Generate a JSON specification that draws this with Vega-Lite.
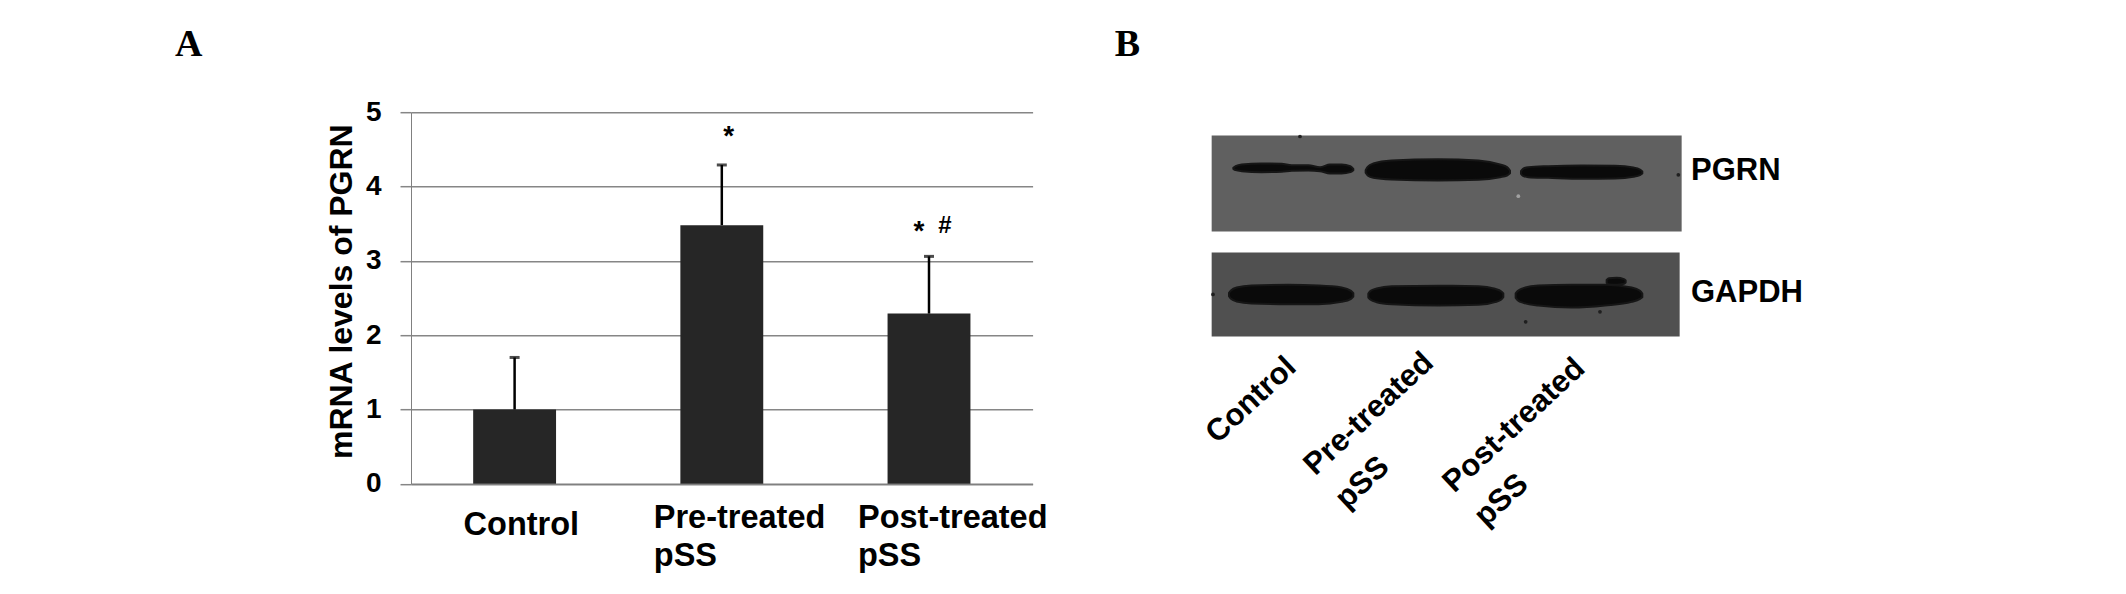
{"$schema":"https://vega.github.io/schema/vega-lite/v6.json","background":"white","padding":{"left":175,"top":26.2,"right":0,"bottom":0},"bounds":"flush","spacing":67,"config":{"view":{"stroke":null},"font":"Liberation Sans"},"datasets":{"bars":[{"group":"Control","mean":1.0,"upper":1.7},{"group":"Pre-treated pSS","mean":3.48,"upper":4.29},{"group":"Post-treated pSS","mean":2.29,"upper":3.06}],"blots":[{"blot":"PGRN","x0":20,"x1":1430,"y0":18,"y1":306},{"blot":"GAPDH","x0":20,"x1":1424,"y0":369,"y1":621}],"bands":[{"band":"p1","gx":85,"top":115,"bottom":118},{"band":"p1","gx":92,"top":110,"bottom":122},{"band":"p1","gx":110,"top":105,"bottom":125},{"band":"p1","gx":170,"top":102,"bottom":128},{"band":"p1","gx":230,"top":103,"bottom":127},{"band":"p1","gx":260,"top":107,"bottom":124},{"band":"p1","gx":310,"top":107,"bottom":123},{"band":"p1","gx":345,"top":113,"bottom":125},{"band":"p1","gx":375,"top":105,"bottom":132},{"band":"p1","gx":410,"top":105,"bottom":132},{"band":"p1","gx":436,"top":110,"bottom":128},{"band":"p1","gx":445,"top":118,"bottom":122},{"band":"p2","gx":482,"top":122,"bottom":130},{"band":"p2","gx":488,"top":112,"bottom":138},{"band":"p2","gx":505,"top":102,"bottom":145},{"band":"p2","gx":560,"top":93,"bottom":150},{"band":"p2","gx":700,"top":89,"bottom":153},{"band":"p2","gx":820,"top":93,"bottom":151},{"band":"p2","gx":885,"top":105,"bottom":143},{"band":"p2","gx":906,"top":113,"bottom":138},{"band":"p2","gx":915,"top":123,"bottom":131},{"band":"p3","gx":948,"top":125,"bottom":133},{"band":"p3","gx":954,"top":118,"bottom":139},{"band":"p3","gx":970,"top":113,"bottom":143},{"band":"p3","gx":1030,"top":110,"bottom":145},{"band":"p3","gx":1130,"top":108,"bottom":148},{"band":"p3","gx":1230,"top":109,"bottom":147},{"band":"p3","gx":1285,"top":114,"bottom":142},{"band":"p3","gx":1305,"top":120,"bottom":137},{"band":"p3","gx":1312,"top":126,"bottom":132},{"band":"g1","gx":72,"top":490,"bottom":500},{"band":"g1","gx":78,"top":483,"bottom":508},{"band":"g1","gx":95,"top":474,"bottom":516},{"band":"g1","gx":140,"top":468,"bottom":522},{"band":"g1","gx":250,"top":466,"bottom":524},{"band":"g1","gx":340,"top":468,"bottom":524},{"band":"g1","gx":410,"top":474,"bottom":517},{"band":"g1","gx":438,"top":484,"bottom":508},{"band":"g1","gx":445,"top":491,"bottom":501},{"band":"g2","gx":490,"top":492,"bottom":504},{"band":"g2","gx":497,"top":484,"bottom":511},{"band":"g2","gx":515,"top":477,"bottom":518},{"band":"g2","gx":560,"top":470,"bottom":524},{"band":"g2","gx":700,"top":469,"bottom":528},{"band":"g2","gx":820,"top":470,"bottom":526},{"band":"g2","gx":870,"top":478,"bottom":518},{"band":"g2","gx":889,"top":486,"bottom":510},{"band":"g2","gx":895,"top":492,"bottom":503},{"band":"g3","gx":932,"top":492,"bottom":505},{"band":"g3","gx":939,"top":484,"bottom":513},{"band":"g3","gx":955,"top":476,"bottom":520},{"band":"g3","gx":1000,"top":468,"bottom":528},{"band":"g3","gx":1100,"top":466,"bottom":534},{"band":"g3","gx":1200,"top":466,"bottom":528},{"band":"g3","gx":1280,"top":474,"bottom":517},{"band":"g3","gx":1305,"top":484,"bottom":508},{"band":"g3","gx":1312,"top":492,"bottom":503},{"band":"g4","gx":1205,"top":451,"bottom":460},{"band":"g4","gx":1212,"top":446,"bottom":465},{"band":"g4","gx":1235,"top":445,"bottom":466},{"band":"g4","gx":1257,"top":449,"bottom":463},{"band":"g4","gx":1262,"top":453,"bottom":459}],"specks":[{"gx":285,"gy":21,"tone":"dark"},{"gx":1420,"gy":136,"tone":"dark"},{"gx":24,"gy":495,"tone":"dark"},{"gx":962,"gy":577,"tone":"dark"},{"gx":1185,"gy":547,"tone":"dark"},{"gx":940,"gy":200,"tone":"light"}],"rotated":[{"gx":37,"gy":945,"name":"Control"},{"gx":331,"gy":1041,"name":"Pre-treated|pSS"},{"gx":748,"gy":1093,"name":"Post-treated|pSS"}],"proteins":[{"gx":1458,"gy":125,"name":"PGRN"},{"gx":1458,"gy":492,"name":"GAPDH"}]},"hconcat":[{"width":621.6,"height":371.6,"title":{"text":"A","anchor":"start","frame":"group","font":"Liberation Serif","fontWeight":"bold","fontSize":38,"color":"#000000","dx":-236,"offset":4,"baseline":"alphabetic"},"data":{"name":"bars"},"layer":[{"mark":{"type":"bar","fill":"#262626"},"encoding":{"x":{"field":"group","type":"nominal","sort":null,"scale":{"paddingInner":0.6,"paddingOuter":0.3},"axis":{"title":null,"labelAngle":0,"ticks":false,"domainColor":"#808080","domainWidth":1.5,"labelFontSize":32.5,"labelFontWeight":"bold","labelColor":"#000000","labelAlign":"left","labelBaseline":"top","labelLineHeight":38,"labelLimit":400,"labelOverlap":false,"labelBound":false,"labelPadding":{"expr":"datum.value=='Control'?25:18"},"labelOffset":{"expr":"datum.value=='Control'?-51:datum.value=='Pre-treated pSS'?-68:-71"},"labelExpr":"datum.label=='Control'?'Control':[replace(datum.label,' pSS',''),'pSS']"}},"y":{"field":"mean","type":"quantitative","scale":{"domain":[0,5],"nice":false},"axis":{"title":"mRNA levels of PGRN","titleFontSize":32,"titleFontWeight":"bold","titleColor":"#000000","titleX":-60,"titleY":179,"titleBaseline":"alphabetic","values":[0,1,2,3,4,5],"format":"d","grid":true,"gridColor":"#868686","gridWidth":1.5,"domainColor":"#808080","domainWidth":1,"tickColor":"#868686","tickWidth":1.5,"tickSize":11,"labelFontSize":28,"labelFontWeight":"bold","labelColor":"#000000","labelPadding":19}}}},{"mark":{"type":"rule","color":"#000000","strokeWidth":2.5},"encoding":{"x":{"field":"group","type":"nominal","sort":null},"y":{"field":"mean","type":"quantitative"},"y2":{"field":"upper"}}},{"mark":{"type":"tick","color":"#000000","size":10,"thickness":3},"encoding":{"x":{"field":"group","type":"nominal","sort":null},"y":{"field":"upper","type":"quantitative"}}},{"data":{"values":[{"group":"Pre-treated pSS","at":4.66}]},"mark":{"type":"text","text":"*","dx":7,"fontSize":28,"fontWeight":"bold","color":"#000000"},"encoding":{"x":{"field":"group","type":"nominal","sort":null},"y":{"field":"at","type":"quantitative"}}},{"data":{"values":[{"group":"Post-treated pSS","at":3.39}]},"mark":{"type":"text","text":"*","dx":-10,"fontSize":28,"fontWeight":"bold","color":"#000000"},"encoding":{"x":{"field":"group","type":"nominal","sort":null},"y":{"field":"at","type":"quantitative"}}},{"data":{"values":[{"group":"Post-treated pSS","at":3.47}]},"mark":{"type":"text","text":"#","dx":16,"fontSize":24,"fontWeight":"bold","color":"#000000"},"encoding":{"x":{"field":"group","type":"nominal","sort":null},"y":{"field":"at","type":"quantitative"}}}]},{"width":730,"height":480,"layer":[{"data":{"name":"blots"},"mark":{"type":"rect"},"encoding":{"x":{"field":"x0","type":"quantitative","scale":{"domain":[-315,1875],"nice":false,"zero":false},"axis":null},"x2":{"field":"x1"},"y":{"field":"y0","type":"quantitative","scale":{"domain":[-51.9,1388.1],"nice":false,"zero":false,"reverse":true},"axis":null},"y2":{"field":"y1"},"color":{"field":"blot","type":"nominal","scale":{"domain":["PGRN","GAPDH"],"range":["#606060","#505050"]},"legend":null}}},{"data":{"name":"bands"},"mark":{"type":"area","interpolate":"monotone","fill":"#0a0a0a","stroke":"#161616","strokeWidth":2,"strokeJoin":"round"},"encoding":{"x":{"field":"gx","type":"quantitative"},"y":{"field":"top","type":"quantitative"},"y2":{"field":"bottom"},"detail":{"field":"band"}}},{"data":{"name":"specks"},"mark":{"type":"circle","size":14,"opacity":0.9},"encoding":{"x":{"field":"gx","type":"quantitative"},"y":{"field":"gy","type":"quantitative"},"fill":{"field":"tone","type":"nominal","scale":{"domain":["dark","light"],"range":["#1a1a1a","#a8a8a8"]},"legend":null}}},{"data":{"name":"rotated"},"mark":{"type":"text","angle":317,"align":"left","baseline":"alphabetic","lineBreak":"|","lineHeight":46,"fontSize":31,"fontWeight":"bold","color":"#000000"},"encoding":{"x":{"field":"gx","type":"quantitative"},"y":{"field":"gy","type":"quantitative"},"text":{"field":"name"}}},{"data":{"name":"proteins"},"mark":{"type":"text","align":"left","baseline":"middle","fontSize":31,"fontWeight":"bold","color":"#000000"},"encoding":{"x":{"field":"gx","type":"quantitative"},"y":{"field":"gy","type":"quantitative"},"text":{"field":"name"}}},{"data":{"values":[{"gx":-271,"gy":-219,"name":"B"}]},"mark":{"type":"text","align":"left","baseline":"alphabetic","font":"Liberation Serif","fontSize":38,"fontWeight":"bold","color":"#000000"},"encoding":{"x":{"field":"gx","type":"quantitative"},"y":{"field":"gy","type":"quantitative"},"text":{"field":"name"}}}]}]}
